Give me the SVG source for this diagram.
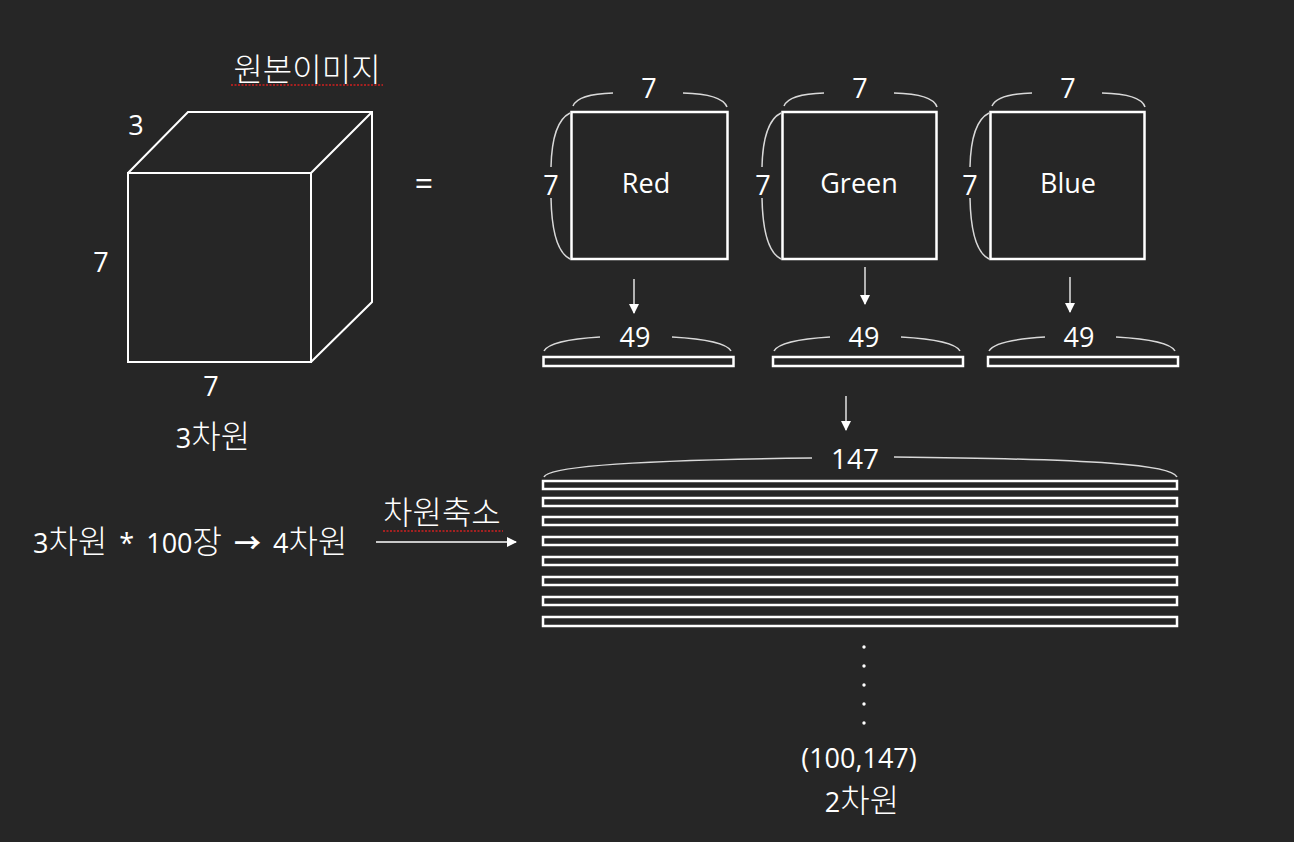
<svg xmlns="http://www.w3.org/2000/svg" width="1294" height="842" viewBox="0 0 1294 842">
<style>
text{font-family:"Open Sans","Noto Sans CJK KR",sans-serif;fill:#ffffff;font-size:27px}
.c{text-anchor:middle}
.k{font-family:"Noto Sans CJK KR",sans-serif;font-size:32px;font-weight:300}
.box{fill:none;stroke:#ffffff;stroke-width:2.5}
.ln{fill:none;stroke:#ffffff;stroke-width:2}
.br{fill:none;stroke:#d9d9d9;stroke-width:1.5}
.sq{stroke:#d02020;stroke-width:1.5;stroke-dasharray:2 1.5;fill:none}
.ar{stroke:#ffffff;stroke-width:1.3;fill:none}
</style>
<defs>
<marker id="ah" markerWidth="10" markerHeight="10" refX="9" refY="5" orient="auto" markerUnits="userSpaceOnUse">
<path d="M0,0 L10,5 L0,10 z" fill="#ffffff"/>
</marker>
</defs>
<rect width="1294" height="842" fill="#262626"/>

<g id="cube">
<text class="c k" x="307" y="81">원본이미지</text>
<line class="sq" x1="231" y1="85" x2="383" y2="85"/>
<path class="ln" d="M128,173 L311,173 L311,362 L128,362 Z M128,173 L188,112 L372,112 L372,302 L311,362 M311,173 L372,112"/>
<text class="c" x="136" y="135">3</text>
<text class="c" x="101" y="272">7</text>
<text class="c" x="211" y="396">7</text>
<text class="c" x="213" y="448">3<tspan class="k">차원</tspan></text>
</g>

<g id="equals">
<text class="c" x="424" y="195" style="font-size:32px">=</text>
</g>

<g id="red">
<rect class="box" x="571.5" y="112" width="156" height="147"/>
<text class="c" x="646" y="193">Red</text>
<text class="c" x="649" y="98">7</text>
<path class="br" d="M573,106 Q578,94 613,93 M683,93 Q722,94 727,107"/>
<text class="c" x="551" y="195">7</text>
<path class="br" d="M570,113 Q552,122 551,167 M551,198 Q552,250 570,259"/>
</g>

<g id="green">
<rect class="box" x="782.5" y="112" width="154" height="147"/>
<text class="c" x="859" y="193">Green</text>
<text class="c" x="860" y="98">7</text>
<path class="br" d="M784,106 Q789,94 824,93 M894,93 Q933,94 937,107"/>
<text class="c" x="763" y="195">7</text>
<path class="br" d="M781,113 Q763,122 762,167 M762,198 Q763,250 781,259"/>
</g>

<g id="blue">
<rect class="box" x="990.5" y="112" width="154" height="147"/>
<text class="c" x="1068" y="193">Blue</text>
<text class="c" x="1068" y="98">7</text>
<path class="br" d="M992,106 Q997,94 1032,93 M1102,93 Q1141,94 1145,107"/>
<text class="c" x="970" y="195">7</text>
<path class="br" d="M989,113 Q971,122 970,167 M970,198 Q971,250 989,259"/>
</g>

<g id="bar-red">
<rect class="box" x="543.5" y="357" width="190" height="9"/>
<text class="c" x="635" y="347">49</text>
<path class="br" d="M544,351 Q550,340 600,337 M672,337 Q725,340 731,351"/>
</g>
<g id="bar-green">
<rect class="box" x="773" y="357" width="190" height="9"/>
<text class="c" x="864" y="347">49</text>
<path class="br" d="M774,351 Q780,340 830,337 M901,337 Q954,340 960,351"/>
</g>
<g id="bar-blue">
<rect class="box" x="988" y="357" width="190" height="9"/>
<text class="c" x="1079" y="347">49</text>
<path class="br" d="M989,351 Q995,340 1045,337 M1116,337 Q1169,340 1175,351"/>
</g>

<g id="stack">
<text class="c" x="855" y="469" style="font-size:28px">147</text>
<path class="br" d="M544,477 C548,466 640,460 812,458 M894,457 C1100,459 1172,465 1177,477"/>
<rect class="box" x="543" y="481" width="634" height="8"/>
<rect class="box" x="543" y="498" width="634" height="8"/>
<rect class="box" x="543" y="517" width="634" height="8"/>
<rect class="box" x="543" y="537" width="634" height="8"/>
<rect class="box" x="543" y="557" width="634" height="8"/>
<rect class="box" x="543" y="577" width="634" height="8"/>
<rect class="box" x="543" y="597" width="634" height="8"/>
<rect class="box" x="543" y="617" width="634" height="9"/>
<circle cx="864" cy="647" r="1.7" fill="#fff"/>
<circle cx="864" cy="666" r="1.7" fill="#fff"/>
<circle cx="864" cy="685" r="1.7" fill="#fff"/>
<circle cx="864" cy="704" r="1.7" fill="#fff"/>
<circle cx="864" cy="723" r="1.7" fill="#fff"/>
<text class="c" x="859" y="768">(100,147)</text>
<text class="c" x="862" y="812">2<tspan class="k">차원</tspan></text>
</g>

<g id="note">
<text x="33" y="553" style="word-spacing:5px">3<tspan class="k">차원</tspan> * 100<tspan class="k">장</tspan> <tspan style="font-family:'Noto Sans CJK KR';font-weight:bold">→</tspan> 4<tspan class="k">차원</tspan></text>
<text class="k" x="383" y="524">차원축소</text>
<line class="sq" x1="383" y1="531" x2="503" y2="531"/>
</g>

<g id="connectors">
<line class="ar" x1="634" y1="279" x2="634" y2="313" marker-end="url(#ah)"/>
<line class="ar" x1="865" y1="267" x2="865" y2="304" marker-end="url(#ah)"/>
<line class="ar" x1="1070" y1="277" x2="1070" y2="312" marker-end="url(#ah)"/>
<line class="ar" x1="846" y1="396" x2="846" y2="430" marker-end="url(#ah)"/>
<line class="ar" x1="376" y1="542" x2="516" y2="542" marker-end="url(#ah)"/>
</g>
</svg>
